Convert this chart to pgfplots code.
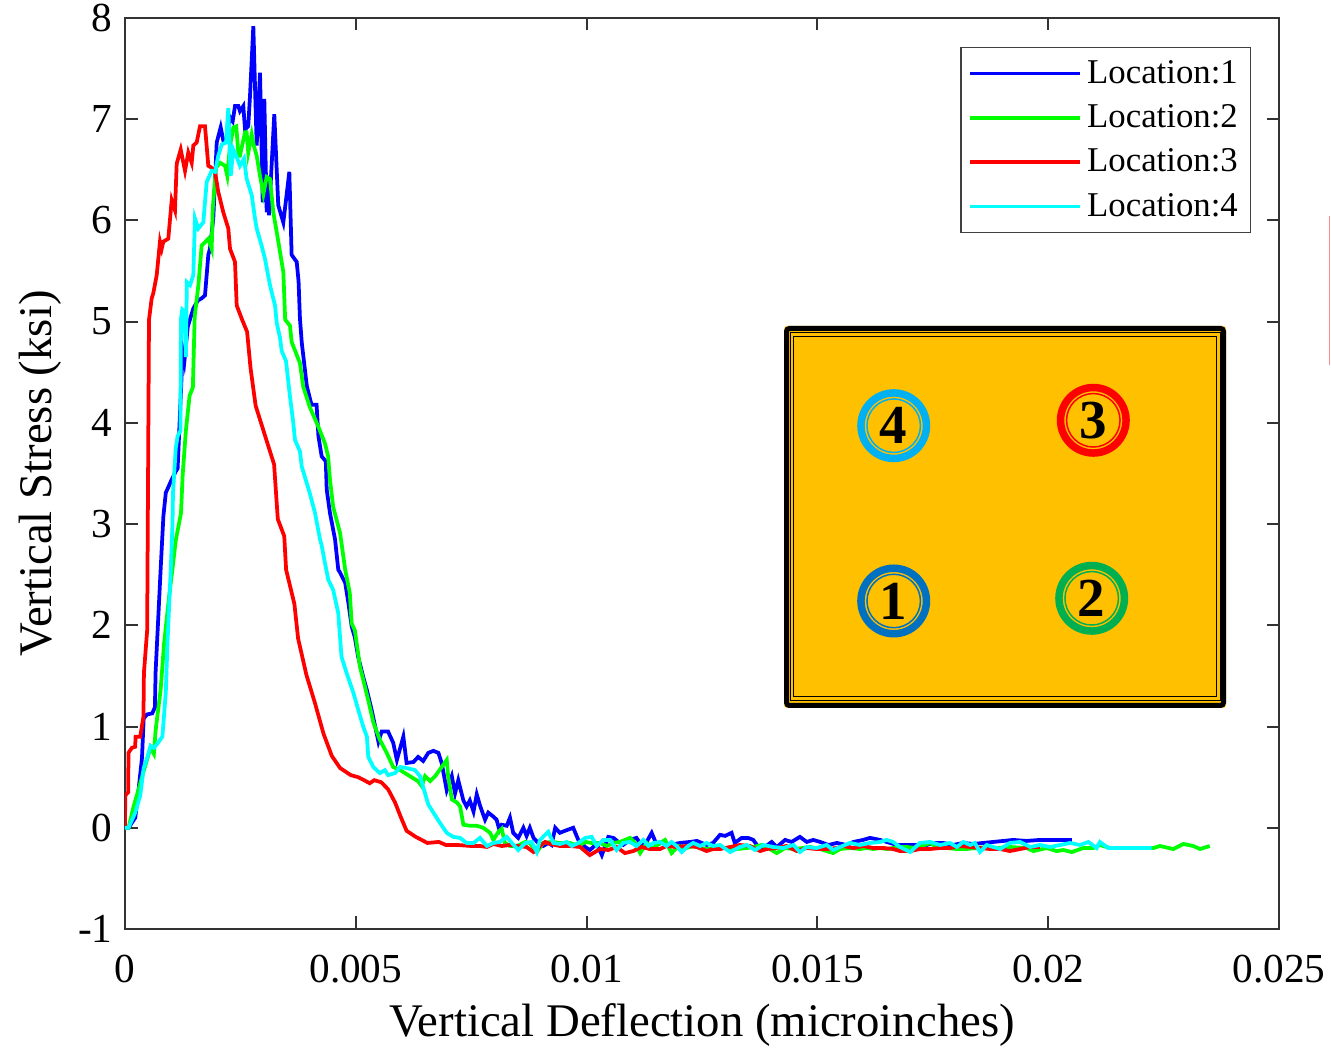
\documentclass[border=0pt]{standalone}
\usepackage{fontspec}
\setmainfont{Liberation Serif}
\usepackage{pgfplots}
\pgfplotsset{compat=1.18}
\definecolor{insetor}{RGB}{255,192,0}
\definecolor{cA}{RGB}{0,112,192}
\definecolor{cB}{RGB}{0,176,80}
\definecolor{cC}{RGB}{255,0,0}
\definecolor{cD}{RGB}{0,176,240}
\begin{document}
\begin{tikzpicture}
\begin{axis}[name=ax, scale only axis, width=461.6pt, height=364.4pt,
  xmin=0, xmax=0.025, ymin=-1, ymax=8,
  xtick={0,0.005,0.01,0.015,0.02,0.025},
  xticklabels={0,0.005,0.01,0.015,0.02,0.025},
  scaled x ticks=false,
  ytick={-1,0,1,2,3,4,5,6,7,8},
  yticklabels={-1,0,1,2,3,4,5,6,7,8},
  tick align=inside, tick pos=both, major tick length=5pt,
  axis line style={line width=0.8pt, black!80},
  every tick/.style={line width=0.8pt, black!80},
  ticklabel style={font=\fontsize{16.5}{18}\selectfont},
  xticklabel style={yshift=-7pt},
  yticklabel style={xshift=-1.5pt},
  xlabel={Vertical Deflection (microinches)},
  ylabel={Vertical Stress (ksi)},
  label style={font=\fontsize{18.7}{22}\selectfont},
  xlabel style={at={(axis description cs:0.5,-0.1054)}, anchor=center},
  ylabel style={at={(axis description cs:-0.0737,0.5)}, anchor=center},
  legend style={at={(axis description cs:1,1)}, anchor=north east, xshift=-11.2pt, yshift=-11.6pt,
    draw=black!75, line width=0.6pt, font=\fontsize{13.9}{16}\selectfont, legend cell align=left,
    inner xsep=3pt, inner ysep=3pt, row sep=3pt},
  legend image code/.code={\draw[#1, line width=1.2pt] (0pt,0pt) -- (42pt,0pt); \path (0pt,0pt) -- (44pt,0pt);},
]
\addplot[color={rgb,255:red,0;green,0;blue,255}, line width=1.5pt] table {
0 0
0.000076 0.00
0.000223 0.10
0.000295 0.38
0.000368 0.69
0.000405 1.08
0.000479 1.12
0.00059 1.13
0.000648 1.19
0.000663 1.54
0.000773 2.56
0.000832 3.08
0.000884 3.31
0.000992 3.42
0.00110 3.52
0.00114 3.55
0.001176 3.93
0.00125 4.71
0.001287 4.61
0.00136 4.95
0.00148 5.13
0.00158 5.21
0.00166 5.23
0.001733 5.26
0.001805 5.66
0.00184 5.72
0.001913 6.02
0.001987 6.77
0.002073 6.92
0.00213 6.79
0.00220 6.80
0.002275 7.02
0.002333 6.98
0.002383 7.13
0.002455 7.13
0.00249 7.08
0.002563 7.13
0.00260 6.90
0.00267 6.93
0.002708 7.23
0.00278 7.92
0.002816 7.33
0.002853 6.74
0.002925 7.46
0.002983 6.18
0.003018 7.20
0.00307 6.08
0.00309 6.44
0.00312 6.05
0.003234 7.05
0.00332 6.15
0.00343 5.98
0.00356 6.48
0.00361 5.66
0.00372 5.59
0.00376 5.40
0.00379 5.03
0.00383 4.79
0.00394 4.36
0.00404 4.18
0.00415 4.18
0.00419 3.87
0.00426 3.67
0.00435 3.62
0.00437 3.34
0.00444 3.11
0.00455 2.85
0.00462 2.55
0.00466 2.52
0.00477 2.42
0.00484 2.22
0.00491 1.99
0.00498 1.88
0.00505 1.69
0.00516 1.49
0.00524 1.36
0.00534 1.17
0.00542 1.00
0.00549 0.85
0.00556 0.95
0.00570 0.95
0.00581 0.84
0.00589 0.67
0.00603 0.90
0.00610 0.64
0.00625 0.65
0.00635 0.70
0.00646 0.66
0.00657 0.74
0.00668 0.76
0.00679 0.74
0.00686 0.64
0.00697 0.37
0.00708 0.51
0.00715 0.34
0.00722 0.47
0.00733 0.27
0.00740 0.21
0.00747 0.27
0.00755 0.16
0.00762 0.33
0.00769 0.22
0.00780 0.08
0.00787 0.15
0.00798 0.11
0.00805 0.08
0.00811 -0.02
0.00816 0.03
0.00827 0.02
0.00834 0.10
0.00841 -0.05
0.00852 -0.10
0.00863 0.00
0.00870 -0.08
0.00877 0.00
0.00885 -0.10
0.00895 -0.15
0.00906 -0.18
0.00917 -0.15
0.00924 -0.17
0.00932 0.00
0.00942 -0.05
0.00953 -0.03
0.00971 0.00
0.00982 -0.12
0.00997 -0.19
0.01007 -0.22
0.01022 -0.16
0.01033 -0.27
0.01047 -0.09
0.01058 -0.10
0.01069 -0.14
0.01079 -0.17
0.01094 -0.12
0.01108 -0.10
0.01119 -0.17
0.01130 -0.14
0.01141 -0.05
0.01152 -0.17
0.01166 -0.14
0.01181 -0.17
0.01202 -0.15
0.01224 -0.14
0.01239 -0.13
0.01260 -0.17
0.01274 -0.15
0.01289 -0.07
0.01300 -0.08
0.01314 -0.05
0.01321 -0.15
0.01336 -0.10
0.01350 -0.10
0.01361 -0.12
0.01372 -0.19
0.01386 -0.19
0.01401 -0.14
0.01412 -0.19
0.01430 -0.12
0.01444 -0.14
0.01462 -0.09
0.01477 -0.14
0.01491 -0.12
0.01506 -0.14
0.01524 -0.17
0.01542 -0.15
0.01563 -0.17
0.01578 -0.14
0.01599 -0.12
0.01614 -0.10
0.01636 -0.12
0.01650 -0.14
0.01672 -0.17
0.01693 -0.17
0.01715 -0.17
0.01737 -0.17
0.01751 -0.15
0.01773 -0.15
0.01794 -0.17
0.01816 -0.15
0.01838 -0.16
0.01859 -0.15
0.01881 -0.14
0.01903 -0.13
0.01924 -0.12
0.01953 -0.13
0.01982 -0.12
0.02004 -0.12
0.02051 -0.12
};
\addlegendentry{Location:1}
\addplot[color={rgb,255:red,0;green,255;blue,0}, line width=1.5pt] table {
0 0
0.000076 0.00
0.000186 0.21
0.000295 0.38
0.000405 0.56
0.000553 0.79
0.000626 0.73
0.000663 0.96
0.000773 1.37
0.000847 1.82
0.000957 2.29
0.001029 2.56
0.00110 2.84
0.001213 3.11
0.00125 3.49
0.00132 3.93
0.00140 4.27
0.00147 4.35
0.00151 5.05
0.00159 5.36
0.00166 5.75
0.001805 5.82
0.001878 5.72
0.00190 6.11
0.00197 6.52
0.00206 6.57
0.002166 6.54
0.002216 6.44
0.002275 6.74
0.00235 6.92
0.00241 6.93
0.00246 6.64
0.00249 6.64
0.00260 6.87
0.002635 6.87
0.00267 6.67
0.002745 6.85
0.00279 6.74
0.002853 6.64
0.002925 6.44
0.002998 6.26
0.00307 6.43
0.00314 6.41
0.003213 6.08
0.003285 5.89
0.003358 5.69
0.00343 5.49
0.00347 5.02
0.003574 4.96
0.00361 4.80
0.00379 4.59
0.00386 4.36
0.00400 4.16
0.00419 3.96
0.00433 3.80
0.00440 3.67
0.00444 3.44
0.00451 3.17
0.00466 2.91
0.00477 2.55
0.00487 2.32
0.00491 2.02
0.00498 1.95
0.00509 1.59
0.00520 1.39
0.00527 1.26
0.00538 1.04
0.00552 0.87
0.00567 0.74
0.00581 0.60
0.00596 0.57
0.00617 0.51
0.00635 0.46
0.00643 0.41
0.00650 0.51
0.00661 0.46
0.00672 0.51
0.00686 0.60
0.00697 0.67
0.00700 0.51
0.00708 0.28
0.00719 0.25
0.00726 0.21
0.00733 0.03
0.00747 0.02
0.00762 0.02
0.00776 0.00
0.00791 -0.05
0.00798 -0.12
0.00809 -0.04
0.00816 -0.01
0.00823 -0.15
0.00834 -0.18
0.00849 -0.18
0.00867 -0.14
0.00877 -0.15
0.00892 -0.24
0.00906 -0.15
0.00924 -0.14
0.00942 -0.15
0.00964 -0.15
0.00982 -0.18
0.00997 -0.14
0.01011 -0.15
0.01029 -0.15
0.01044 -0.18
0.01058 -0.15
0.01072 -0.14
0.01094 -0.10
0.01105 -0.15
0.01116 -0.25
0.01130 -0.15
0.01145 -0.20
0.01159 -0.15
0.01170 -0.12
0.01184 -0.25
0.01199 -0.18
0.01217 -0.20
0.01231 -0.18
0.01246 -0.20
0.01267 -0.21
0.01289 -0.20
0.01304 -0.20
0.01325 -0.21
0.01347 -0.20
0.01361 -0.19
0.01379 -0.17
0.01397 -0.21
0.01412 -0.25
0.01430 -0.20
0.01448 -0.21
0.01469 -0.20
0.01484 -0.19
0.01506 -0.21
0.01534 -0.25
0.01549 -0.21
0.01571 -0.20
0.01592 -0.21
0.01607 -0.20
0.01621 -0.21
0.01636 -0.20
0.01650 -0.21
0.01664 -0.20
0.01679 -0.19
0.01693 -0.19
0.01715 -0.20
0.01744 -0.15
0.01758 -0.19
0.01780 -0.20
0.01802 -0.21
0.01823 -0.21
0.01845 -0.20
0.01867 -0.19
0.01888 -0.20
0.01917 -0.19
0.01953 -0.20
0.01968 -0.23
0.01997 -0.20
0.02018 -0.23
0.02033 -0.22
0.02051 -0.24
0.02076 -0.20
0.02098 -0.20
0.02112 -0.17
0.02134 -0.20
0.02163 -0.20
0.02199 -0.20
0.02228 -0.20
0.02242 -0.18
0.02271 -0.21
0.02293 -0.16
0.02314 -0.18
0.02329 -0.21
0.02350 -0.18
};
\addlegendentry{Location:2}
\addplot[color={rgb,255:red,255;green,0;blue,0}, line width=1.5pt] table {
0 0
0.000005 0.32
0.00007 0.35
0.000075 0.74
0.00015 0.79
0.00022 0.80
0.00023 0.90
0.00033 0.90
0.00040 1.10
0.00041 1.53
0.00048 1.95
0.00052 5.02
0.000578 5.23
0.000613 5.28
0.000687 5.46
0.000758 5.79
0.000795 5.72
0.00083 5.79
0.000938 5.82
0.001012 6.20
0.001083 6.10
0.00112 6.56
0.001207 6.70
0.00130 6.49
0.001371 6.67
0.001445 6.57
0.00148 6.74
0.001553 6.77
0.001625 6.93
0.001733 6.93
0.001805 6.54
0.001878 6.52
0.00195 6.48
0.002021 6.28
0.00213 6.08
0.002238 5.92
0.002275 5.72
0.002383 5.59
0.00242 5.16
0.002528 5.03
0.002645 4.90
0.00272 4.54
0.00283 4.17
0.00305 3.85
0.00323 3.59
0.00331 3.05
0.00345 2.88
0.00349 2.55
0.00367 2.21
0.00375 1.87
0.00393 1.51
0.00411 1.24
0.00430 0.93
0.00448 0.71
0.00466 0.59
0.00489 0.52
0.00505 0.50
0.00518 0.47
0.00530 0.44
0.00540 0.47
0.00555 0.45
0.00570 0.38
0.00585 0.25
0.00598 0.10
0.00610 -0.03
0.00630 -0.09
0.00655 -0.15
0.00680 -0.14
0.00695 -0.17
0.00720 -0.17
0.00750 -0.18
0.00769 -0.18
0.00784 -0.19
0.00798 -0.16
0.00816 -0.18
0.00834 -0.17
0.00849 -0.18
0.00870 -0.19
0.00885 -0.24
0.00899 -0.18
0.00910 -0.14
0.00921 -0.16
0.00942 -0.18
0.00964 -0.18
0.00986 -0.19
0.01007 -0.27
0.01029 -0.21
0.01047 -0.22
0.01065 -0.19
0.01083 -0.25
0.01101 -0.23
0.01119 -0.19
0.01137 -0.21
0.01159 -0.21
0.01173 -0.18
0.01195 -0.19
0.01217 -0.18
0.01239 -0.19
0.01260 -0.23
0.01274 -0.21
0.01289 -0.21
0.01311 -0.19
0.01332 -0.17
0.01354 -0.18
0.01376 -0.23
0.01390 -0.21
0.01412 -0.20
0.01433 -0.18
0.01455 -0.23
0.01477 -0.20
0.01498 -0.21
0.01520 -0.21
0.01542 -0.20
0.01556 -0.18
0.01578 -0.20
0.01599 -0.18
0.01621 -0.20
0.01643 -0.20
0.01664 -0.21
0.01679 -0.23
0.01701 -0.23
0.01722 -0.21
0.01744 -0.21
0.01766 -0.20
0.01787 -0.20
0.01809 -0.18
0.01831 -0.19
0.01852 -0.20
0.01874 -0.21
0.01896 -0.21
0.01917 -0.23
0.01939 -0.21
0.01961 -0.19
0.01982 -0.19
};
\addlegendentry{Location:3}
\addplot[color={rgb,255:red,0;green,255;blue,255}, line width=1.5pt] table {
0 0
0.000076 0.00
0.000223 0.15
0.000331 0.32
0.000405 0.59
0.000479 0.69
0.000553 0.81
0.000626 0.79
0.00070 0.83
0.00081 0.90
0.000884 1.34
0.00092 1.82
0.000992 2.56
0.001029 3.00
0.00104 3.31
0.00110 3.75
0.00114 3.87
0.00120 3.92
0.001213 5.03
0.00124 5.12
0.001287 5.10
0.00132 4.65
0.00134 5.39
0.001408 5.36
0.00148 5.46
0.001516 6.02
0.001588 5.92
0.001696 5.98
0.00177 6.38
0.001878 6.49
0.00195 6.48
0.002021 6.64
0.002095 6.75
0.002188 6.77
0.002238 7.11
0.00229 6.44
0.002346 6.70
0.002433 6.61
0.00249 6.54
0.002578 6.61
0.002636 6.41
0.002745 6.25
0.002816 6.02
0.002853 5.92
0.00296 5.75
0.003033 5.62
0.003141 5.36
0.00325 5.16
0.003286 4.99
0.003358 4.84
0.003395 4.71
0.003488 4.61
0.003574 4.26
0.003646 4.00
0.003683 3.83
0.00379 3.72
0.003828 3.57
0.00400 3.31
0.004116 3.11
0.004225 2.85
0.00426 2.79
0.00433 2.62
0.004404 2.45
0.00451 2.35
0.00462 2.12
0.00469 1.69
0.00480 1.53
0.00495 1.33
0.00505 1.17
0.00516 1.00
0.00524 0.90
0.00527 0.70
0.00538 0.60
0.00552 0.54
0.00563 0.57
0.00570 0.52
0.00585 0.54
0.00596 0.60
0.00610 0.59
0.00628 0.57
0.00639 0.51
0.00650 0.34
0.00657 0.23
0.00668 0.15
0.00682 0.05
0.00697 -0.05
0.00711 -0.09
0.00726 -0.10
0.00740 -0.15
0.00755 -0.15
0.00769 -0.10
0.00784 -0.18
0.00798 -0.15
0.00812 -0.14
0.00827 -0.09
0.00838 -0.15
0.00852 -0.22
0.00867 -0.15
0.00881 -0.14
0.00892 -0.24
0.00899 -0.12
0.00917 -0.04
0.00928 -0.15
0.00942 -0.16
0.00957 -0.14
0.00968 -0.18
0.00982 -0.15
0.00997 -0.10
0.01011 -0.09
0.01022 -0.18
0.01036 -0.12
0.01051 -0.12
0.01065 -0.22
0.01079 -0.15
0.01094 -0.14
0.01108 -0.18
0.01123 -0.12
0.01134 -0.18
0.01145 -0.15
0.01159 -0.14
0.01173 -0.18
0.01184 -0.14
0.01195 -0.18
0.01206 -0.24
0.01220 -0.18
0.01231 -0.15
0.01246 -0.18
0.01260 -0.15
0.01274 -0.18
0.01289 -0.17
0.01311 -0.24
0.01332 -0.19
0.01347 -0.17
0.01365 -0.22
0.01383 -0.17
0.01404 -0.19
0.01426 -0.20
0.01448 -0.17
0.01462 -0.24
0.01477 -0.19
0.01498 -0.20
0.01520 -0.17
0.01534 -0.22
0.01549 -0.19
0.01571 -0.15
0.01592 -0.17
0.01614 -0.15
0.01636 -0.14
0.01650 -0.12
0.01664 -0.14
0.01679 -0.19
0.01701 -0.24
0.01722 -0.15
0.01744 -0.14
0.01766 -0.17
0.01787 -0.15
0.01802 -0.19
0.01816 -0.14
0.01831 -0.17
0.01841 -0.15
0.01852 -0.24
0.01867 -0.17
0.01881 -0.19
0.01896 -0.21
0.01917 -0.15
0.01939 -0.14
0.01961 -0.19
0.01982 -0.17
0.02004 -0.19
0.02026 -0.17
0.02047 -0.15
0.02069 -0.17
0.02087 -0.14
0.02105 -0.20
0.02112 -0.14
0.02130 -0.20
0.02163 -0.20
0.02199 -0.20
0.02224 -0.20
};
\addlegendentry{Location:4}
\end{axis}
\begin{scope}[shift={(ax.south west)}, x=0.4pt, y=-0.4pt, shift={(-125,-929)}]
  % inset panel
  \fill[insetor, rounded corners=1.2pt] (784,326) rectangle (1226,708);
  \draw[black, line width=2pt, rounded corners=1.2pt] (786.5,328.5) rectangle (1223.5,705.5);
  \draw[black, line width=0.4pt] (790.5,333) rectangle (1220,700.5);
  \draw[black, line width=0.4pt] (793.5,336.5) rectangle (1216.5,697);
  \foreach \cx/\cy/\col/\lab in {893.7/425.7/cD/4, 1093.3/420.3/cC/3, 893.7/601/cA/1, 1091.7/598.3/cB/2}{
    \draw[\col, line width=3pt] (\cx,\cy) circle[radius=13.1pt];
    \draw[\col, line width=0.6pt] (\cx,\cy) circle[radius=10.7pt];
    \node[font=\fontsize{22}{22}\selectfont\bfseries, inner sep=0pt] at (\cx,\cy) {\lab};
  }
  % stray mark at the right edge
  \draw[red!45, line width=0.5pt] (1329.5,216) -- (1329.5,365);
  \pgfresetboundingbox
  \path[use as bounding box] (0,0) rectangle (1331,1050);
\end{scope}
\end{tikzpicture}
\end{document}
